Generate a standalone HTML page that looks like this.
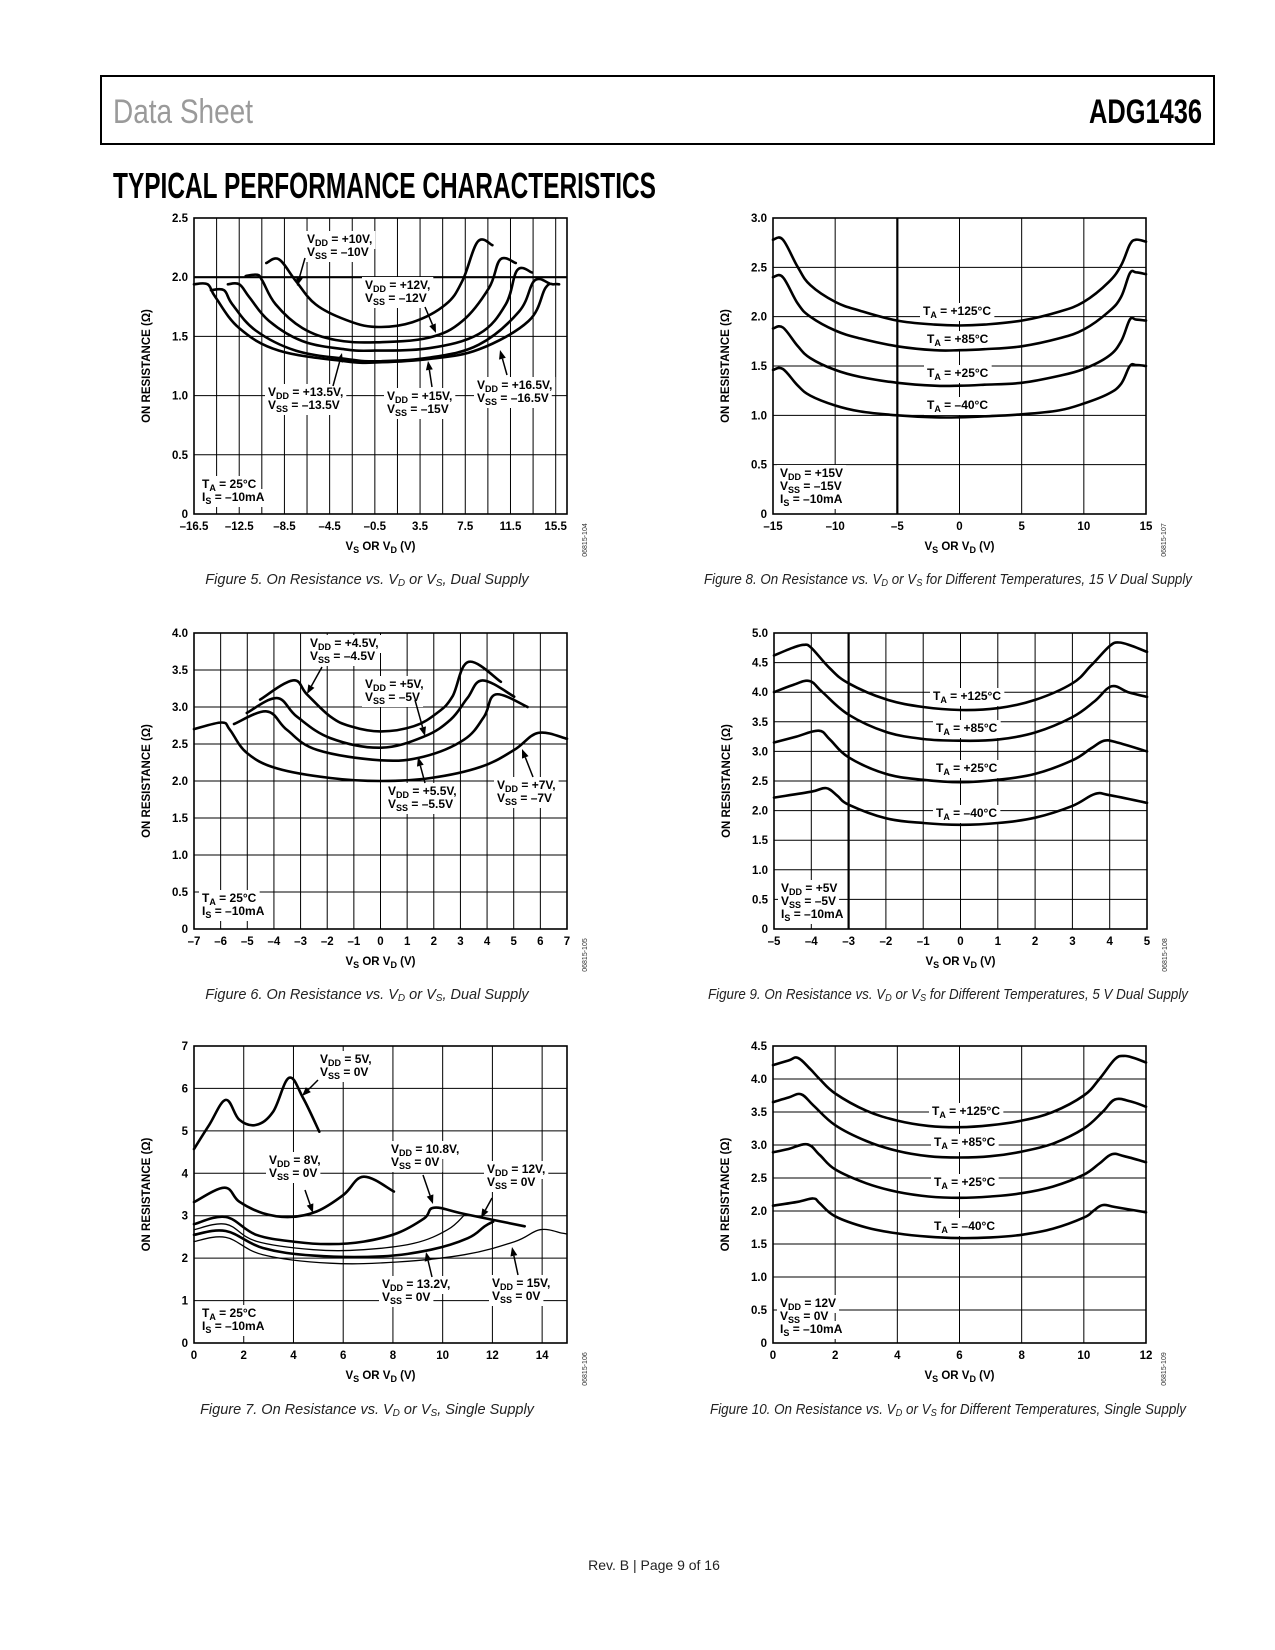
<!DOCTYPE html>
<html><head><meta charset="utf-8"><title>ADG1436 Typical Performance Characteristics</title>
<style>
html,body{margin:0;padding:0;background:#fff;}
svg{display:block;font-family:"Liberation Sans",Arial,sans-serif;}
.tk{font-size:11.5px;font-weight:bold;fill:#000;}
.lb{font-size:12px;font-weight:bold;fill:#000;}
.cap{font-size:14.5px;font-style:italic;fill:#222;}
</style></head>
<body>
<svg id="page" width="1275" height="1650" viewBox="0 0 1275 1650" xmlns="http://www.w3.org/2000/svg">
<rect x="101" y="76" width="1113" height="68" fill="none" stroke="#000" stroke-width="2"/>
<text x="113" y="123" font-size="34" fill="#9a9a9a" textLength="140" lengthAdjust="spacingAndGlyphs">Data Sheet</text>
<text x="1089" y="123" font-size="34" font-weight="bold" fill="#000" textLength="113" lengthAdjust="spacingAndGlyphs">ADG1436</text>
<text x="113" y="198" font-size="36" font-weight="bold" fill="#000" textLength="543" lengthAdjust="spacingAndGlyphs">TYPICAL PERFORMANCE CHARACTERISTICS</text>
<text class="cap" x="367" y="584" text-anchor="middle">Figure 5. On Resistance vs. V<tspan font-size="10" dy="2">D</tspan><tspan dy="-2"> or V</tspan><tspan font-size="10" dy="2">S</tspan><tspan dy="-2">, Dual Supply</tspan></text>
<text class="cap" x="948" y="584" text-anchor="middle" textLength="488" lengthAdjust="spacingAndGlyphs">Figure 8. On Resistance vs. V<tspan font-size="10" dy="2">D</tspan><tspan dy="-2"> or V</tspan><tspan font-size="10" dy="2">S</tspan><tspan dy="-2"> for Different Temperatures, 15 V Dual Supply</tspan></text>
<text class="cap" x="367" y="999" text-anchor="middle">Figure 6. On Resistance vs. V<tspan font-size="10" dy="2">D</tspan><tspan dy="-2"> or V</tspan><tspan font-size="10" dy="2">S</tspan><tspan dy="-2">, Dual Supply</tspan></text>
<text class="cap" x="948" y="999" text-anchor="middle" textLength="480" lengthAdjust="spacingAndGlyphs">Figure 9. On Resistance vs. V<tspan font-size="10" dy="2">D</tspan><tspan dy="-2"> or V</tspan><tspan font-size="10" dy="2">S</tspan><tspan dy="-2"> for Different Temperatures, 5 V Dual Supply</tspan></text>
<text class="cap" x="367" y="1414" text-anchor="middle">Figure 7. On Resistance vs. V<tspan font-size="10" dy="2">D</tspan><tspan dy="-2"> or V</tspan><tspan font-size="10" dy="2">S</tspan><tspan dy="-2">, Single Supply</tspan></text>
<text class="cap" x="948" y="1414" text-anchor="middle" textLength="476" lengthAdjust="spacingAndGlyphs">Figure 10. On Resistance vs. V<tspan font-size="10" dy="2">D</tspan><tspan dy="-2"> or V</tspan><tspan font-size="10" dy="2">S</tspan><tspan dy="-2"> for Different Temperatures, Single Supply</tspan></text>
<text x="654" y="1570" font-size="14" fill="#222" text-anchor="middle">Rev. B | Page 9 of 16</text>
</svg>
<script>
// ---------- Figure 5 data ----------
const f5_xticks = [-16.5,-12.5,-8.5,-4.5,-0.5,3.5,7.5,11.5,15.5];
const f5_yticks = [0,0.5,1.0,1.5,2.0,2.5];
const f5_v10_x = [-10.1,-8.98,-7.5,-5.73,-3.08,-0.42,2.82,5.77,7.25,8.6,9.9];
const f5_v10_y = [2.12,2.15,1.97,1.77,1.64,1.58,1.62,1.77,1.97,2.30,2.27];
const f5_v12_x = [-11.93,-10.9,-10.45,-9.27,-6.9,-3.96,-0.42,4.3,7.25,9.6,10.6,11.97];
const f5_v12_y = [2.01,2.02,1.97,1.77,1.57,1.47,1.45,1.49,1.63,1.91,2.15,2.12];
const f5_v135_x = [-13.5,-12.5,-11.6,-9.86,-6.9,-3.08,-0.42,4.3,8.7,11.08,12.1,13.4];
const f5_v135_y = [1.94,1.94,1.83,1.63,1.46,1.39,1.38,1.40,1.52,1.77,2.06,2.04];
const f5_v15_x = [-15.0,-13.85,-13.1,-11.04,-7.5,-3.08,-0.42,4.3,8.7,12.26,13.6,14.9];
const f5_v15_y = [1.89,1.89,1.77,1.55,1.38,1.31,1.29,1.32,1.43,1.71,1.97,1.95];
const f5_v165_x = [-16.5,-15.3,-14.6,-12.5,-8.98,-3.08,-0.42,4.3,8.7,13.1,14.6,15.35,15.8];
const f5_v165_y = [1.94,1.94,1.83,1.57,1.38,1.29,1.28,1.31,1.39,1.63,1.91,1.94,1.94];
// ---------- Figure 6 data ----------
const f6_xticks = [-7,-6,-5,-4,-3,-2,-1,0,1,2,3,4,5,6,7];
const f6_yticks = [0,0.5,1.0,1.5,2.0,2.5,3.0,3.5,4.0];
const f6_v45_x = [-4.52,-3.29,-2.76,-1.88,-1.13,0,1.25,2.13,2.7,3.3,4.52];
const f6_v45_y = [3.10,3.36,3.17,2.87,2.74,2.67,2.74,2.92,3.14,3.61,3.34];
const f6_v5_x = [-5.02,-3.89,-3.14,-1.88,0,1.63,2.63,3.26,3.83,5.02];
const f6_v5_y = [2.92,3.12,2.87,2.58,2.45,2.60,2.83,3.12,3.36,3.14];
const f6_v55_x = [-5.5,-4.27,-3.51,-2.38,0,1.63,3.14,3.89,4.33,5.52];
const f6_v55_y = [2.77,2.94,2.69,2.42,2.28,2.33,2.56,2.87,3.17,3.00];
const f6_v7_x = [-7,-5.96,-5.65,-5.02,-3.89,-1.88,0,1.88,3.76,5.02,5.92,7];
const f6_v7_y = [2.70,2.79,2.69,2.38,2.17,2.04,2.00,2.04,2.19,2.42,2.65,2.57];
// ---------- Figure 7 data ----------
const f7_xticks = [0,2,4,6,8,10,12,14];
const f7_yticks = [0,1,2,3,4,5,6,7];
const f7_v5_x = [0,0.61,1.28,1.82,2.5,3.18,3.82,4.39,5.04];
const f7_v5_y = [4.57,5.14,5.73,5.26,5.14,5.45,6.25,5.77,4.98];
const f7_v8_x = [0,1.22,1.82,2.77,3.85,4.93,6.01,6.82,8.04];
const f7_v8_y = [3.32,3.66,3.33,3.06,2.97,3.10,3.49,3.92,3.57];
const f7_v108_x = [0,1.28,2.5,4.12,5.47,6.82,8.18,9.26,9.66,10.88,13.3];
const f7_v108_y = [2.80,2.97,2.55,2.38,2.33,2.39,2.59,2.94,3.19,3.04,2.75];
const f7_v12_x = [0,1.28,2.5,4.8,6.82,8.85,10.2,10.88];
const f7_v12_y = [2.67,2.80,2.40,2.20,2.20,2.35,2.67,3.02];
const f7_v132_x = [0,1.28,2.77,4.8,7.5,9.53,11.01,11.69,12.03];
const f7_v132_y = [2.55,2.64,2.24,2.06,2.04,2.20,2.47,2.75,2.86];
const f7_v15_x = [0,1.28,2.77,5.47,8.18,10.88,12.9,13.92,14.8,15];
const f7_v15_y = [2.39,2.49,2.08,1.88,1.91,2.08,2.39,2.67,2.59,2.57];
// ---------- Figure 8 data ----------
const f8_xticks = [-15,-10,-5,0,5,10,15];
const f8_yticks = [0,0.5,1.0,1.5,2.0,2.5,3.0];
const f8_x = [-15,-14.2,-13,-12,-10,-8,-5,-2,0,2,5,8,10,12,13,13.7,14.2,15];
const f8_t125 = [2.78,2.78,2.50,2.32,2.15,2.06,1.96,1.92,1.91,1.92,1.96,2.05,2.15,2.35,2.52,2.73,2.78,2.76];
const f8_t85 = [2.40,2.40,2.13,2.00,1.86,1.78,1.70,1.66,1.66,1.67,1.70,1.78,1.87,2.05,2.20,2.44,2.45,2.43];
const f8_t25 = [1.88,1.89,1.70,1.58,1.46,1.39,1.33,1.30,1.30,1.31,1.33,1.40,1.47,1.60,1.75,1.97,1.97,1.96];
const f8_tm40 = [1.46,1.47,1.30,1.20,1.10,1.04,1.00,0.98,0.98,0.99,1.01,1.05,1.12,1.22,1.32,1.50,1.51,1.50];
// ---------- Figure 9 data ----------
const f9_xticks = [-5,-4,-3,-2,-1,0,1,2,3,4,5];
const f9_yticks = [0,0.5,1.0,1.5,2.0,2.5,3.0,3.5,4.0,4.5,5.0];
const f9_t125_x = [-5,-4.5,-4.2,-4,-3.5,-3,-2,-1,0,1,2,3,3.5,4,4.25,4.6,5];
const f9_t125_y = [4.62,4.75,4.80,4.75,4.40,4.15,3.88,3.75,3.70,3.73,3.87,4.15,4.45,4.78,4.84,4.78,4.68];
const f9_t85_x = [-5,-4.5,-4.05,-3.7,-3,-2,-1,0,1,2,3,3.6,4.05,4.5,5];
const f9_t85_y = [4.00,4.12,4.19,4.00,3.62,3.33,3.21,3.18,3.20,3.32,3.58,3.85,4.10,4.00,3.92];
const f9_t25_x = [-5,-4.4,-3.8,-3.5,-3,-2,-1,0,1,2,3,3.5,3.85,4.2,5];
const f9_t25_y = [3.15,3.25,3.35,3.20,2.90,2.62,2.52,2.48,2.52,2.62,2.85,3.05,3.18,3.15,3.00];
const f9_tm40_x = [-5,-4,-3.6,-3.3,-3,-2,-1,0,1,2,3,3.6,4,5];
const f9_tm40_y = [2.22,2.32,2.38,2.25,2.10,1.87,1.79,1.76,1.79,1.88,2.08,2.28,2.26,2.13];
// ---------- Figure 10 data ----------
const f10_xticks = [0,2,4,6,8,10,12];
const f10_yticks = [0,0.5,1.0,1.5,2.0,2.5,3.0,3.5,4.0,4.5];
const f10_t125_x = [0,0.5,0.8,1.2,1.5,2,3,4,5,6,7,8,9,10,10.5,11,11.3,11.6,12];
const f10_t125_y = [4.21,4.28,4.32,4.15,4.00,3.78,3.52,3.37,3.29,3.27,3.30,3.37,3.50,3.75,4.00,4.30,4.35,4.32,4.25];
const f10_t85_x = [0,0.5,0.9,1.3,2,3,4,5,6,7,8,9,10,10.6,11,11.5,12];
const f10_t85_y = [3.65,3.72,3.77,3.60,3.30,3.06,2.91,2.83,2.81,2.83,2.90,3.02,3.25,3.50,3.69,3.66,3.58];
const f10_t25_x = [0,0.5,1.1,1.5,2,3,4,5,6,7,8,9,10,10.5,10.9,11.3,12];
const f10_t25_y = [2.89,2.94,3.01,2.85,2.63,2.42,2.29,2.22,2.20,2.22,2.27,2.37,2.55,2.72,2.86,2.83,2.74];
const f10_tm40_x = [0,0.8,1.3,1.5,2,3,4,5,6,7,8,9,10,10.3,10.6,11,12];
const f10_tm40_y = [2.08,2.14,2.19,2.12,1.92,1.75,1.66,1.61,1.59,1.60,1.64,1.73,1.90,2.00,2.09,2.06,1.98];

const NS = "http://www.w3.org/2000/svg";
const svg = document.getElementById('page');
function mk(tag, attrs, parent){
  const e = document.createElementNS(NS, tag);
  for (const k in attrs) e.setAttribute(k, attrs[k]);
  parent.appendChild(e);
  return e;
}
function fmt(v){
  let s = Number.isInteger(v) ? String(v) : String(v);
  return s.replace('-', '\u2013');
}
function smoothPath(px){
  let d = 'M' + px[0][0].toFixed(1) + ',' + px[0][1].toFixed(1);
  for (let i = 0; i < px.length - 1; i++){
    const p0 = px[Math.max(0,i-1)], p1 = px[i], p2 = px[i+1], p3 = px[Math.min(px.length-1,i+2)];
    const t = 0.18;
    const c1 = [p1[0] + (p2[0]-p0[0])*t, p1[1] + (p2[1]-p0[1])*t];
    const c2 = [p2[0] - (p3[0]-p1[0])*t, p2[1] - (p3[1]-p1[1])*t];
    d += ' C' + c1[0].toFixed(1)+','+c1[1].toFixed(1)+' '+c2[0].toFixed(1)+','+c2[1].toFixed(1)+' '+p2[0].toFixed(1)+','+p2[1].toFixed(1);
  }
  return d;
}

function chart(c){
  const g = mk('g', {}, svg);
  
  
  const sx = v => c.x0 + (v - c.xmin) / (c.xmax - c.xmin) * (c.x1 - c.x0);
  const sy = v => c.y1 - (v - c.ymin) / (c.ymax - c.ymin) * (c.y1 - c.y0);
  const gGrid = mk('g', {}, g), gBg = mk('g', {}, g), gCurve = mk('g', {}, g), gTxt = mk('g', {}, g);
  
  
  for (let v = c.xmin + c.xstep; v < c.xmax - 1e-6; v += c.xstep){
    const ln = mk('line', {x1:sx(v), x2:sx(v), y1:c.y0, y2:c.y1, stroke:'#000', 'stroke-width': (c.thickX===undefined||Math.abs(v-c.thickX)>1e-6)?1:2.2}, gGrid);
    
    
  }
  for (let v = c.ymin + c.ystep; v < c.ymax - 1e-6; v += c.ystep){
    const ln = mk('line', {x1:c.x0, x2:c.x1, y1:sy(v), y2:sy(v), stroke:'#000', 'stroke-width': (c.thickY===undefined||Math.abs(v-c.thickY)>1e-6)?1:2.2}, gGrid);
    
    
  }
  const fr = mk('rect', {x:c.x0, y:c.y0, width:c.x1-c.x0, height:c.y1-c.y0, fill:'none', stroke:'#000', 'stroke-width':1.6}, g);
  
  
  c.xticks.forEach(v => {
    const t = mk('text', {x:sx(v), y:c.y1+16, 'text-anchor':'middle', class:'tk'}, g);
    t.textContent = fmt(v);
    
    
  });
  c.yticks.forEach(v => {
    const t = mk('text', {x:c.x0-6, y:sy(v)+4, 'text-anchor':'end', class:'tk'}, g);
    t.textContent = c.ydec ? (v===0?'0':v.toFixed(1)) : String(v);
    
    
  });
  const xt = mk('text', {x:(c.x0+c.x1)/2, y:c.y1+36, 'text-anchor':'middle', class:'tk'}, g);
  xt.innerHTML = 'V<tspan font-size="9" dy="3">S</tspan><tspan dy="-3"> OR V</tspan><tspan font-size="9" dy="3">D</tspan><tspan dy="-3"> (V)</tspan>';
  
  
  const ym = (c.y0+c.y1)/2;
  const yt = mk('text', {x:c.x0-44, y:ym, 'text-anchor':'middle', class:'tk', transform:'rotate(-90 '+(c.x0-44)+' '+ym+')'}, g);
  yt.textContent = 'ON RESISTANCE (\u03A9)';
  
  
  const idx = c.x1 + 20, idy = c.y1 + 26;
  const idt = mk('text', {x:idx, y:idy, 'text-anchor':'middle', 'font-size':7, fill:'#333', transform:'rotate(-90 '+idx+' '+idy+')'}, g);
  idt.textContent = c.id;
  
  
  c.series.forEach(s => {
    const pts = s.x.map((xv,i) => [sx(xv), sy(s.y[i])]);
    const p = mk('path', {d:smoothPath(pts), fill:'none', stroke:'#000', 'stroke-width':s.w||2.6, 'stroke-linejoin':'round', 'stroke-linecap':'round'}, gCurve);
    
    
  });
  c.labels.forEach(L => {
    const t = mk('text', {x:L.x, y:L.y, class:'lb'}, gTxt);
    t.innerHTML = L.html;
    
    
    const b = t.getBBox();
    const r = mk('rect', {x:b.x-3, y:b.y-1, width:b.width+6, height:b.height+2, fill:'#fff'}, gBg);
    
    
  });
  (c.arrows||[]).forEach(a => {
    const [x1,y1,x2,y2] = a;
    const ag = mk('g', {}, gTxt);
    
    
    const ang = Math.atan2(y2-y1, x2-x1), L = 9, W = 3.5;
    const bx = x2 - L*Math.cos(ang), by = y2 - L*Math.sin(ang);
    mk('line', {x1:x1, y1:y1, x2:bx, y2:by, stroke:'#000', 'stroke-width':1.5}, ag);
    mk('polygon', {points: x2+','+y2+' '+(bx - W*Math.sin(ang))+','+(by + W*Math.cos(ang))+' '+(bx + W*Math.sin(ang))+','+(by - W*Math.cos(ang)), fill:'#000'}, ag);
  });
}
function vv(a,b,c){ return a+'<tspan font-size="9" dy="3">'+b+'</tspan><tspan dy="-3">'+c+'</tspan>'; }
function two(x,y,l1,l2,name){ return [{x:x,y:y,html:l1,name:name+'-line1'},{x:x,y:y+13,html:l2,name:name+'-line2'}]; }

// Figure 5
chart({name:'chart-fig5', id:'06815-104', x0:194, x1:567, y0:218, y1:514, xmin:-16.5, xmax:16.5, ymin:0, ymax:2.5, xstep:2, ystep:0.5, thickY:2.0, ydec:true,
  xticks:f5_xticks, yticks:f5_yticks,
  series:[{x:f5_v10_x,y:f5_v10_y,name:'curve-vdd-10v'},{x:f5_v12_x,y:f5_v12_y,name:'curve-vdd-12v'},{x:f5_v135_x,y:f5_v135_y,name:'curve-vdd-13-5v'},{x:f5_v15_x,y:f5_v15_y,name:'curve-vdd-15v'},{x:f5_v165_x,y:f5_v165_y,name:'curve-vdd-16-5v'}],
  labels:[].concat(
    two(307,243,vv('V','DD',' = +10V,'),vv('V','SS',' = \u201310V'),'label-vdd-10v'),
    two(365,289,vv('V','DD',' = +12V,'),vv('V','SS',' = \u201312V'),'label-vdd-12v'),
    two(268,396,vv('V','DD',' = +13.5V,'),vv('V','SS',' = \u201313.5V'),'label-vdd-13-5v'),
    two(387,400,vv('V','DD',' = +15V,'),vv('V','SS',' = \u201315V'),'label-vdd-15v'),
    two(477,389,vv('V','DD',' = +16.5V,'),vv('V','SS',' = \u201316.5V'),'label-vdd-16-5v'),
    two(202,488,vv('T','A',' = 25\u00B0C'),vv('I','S',' = \u201310mA'),'label-conditions')),
  arrows:[[305,258,297,286],[425,307,436,333],[333,386,342,353],[432,387,428,361],[507,375,500,350]]
});
// Figure 8
chart({name:'chart-fig8', id:'06815-107', x0:773, x1:1146, y0:218, y1:514, xmin:-15, xmax:15, ymin:0, ymax:3, xstep:5, ystep:0.5, thickX:-5, ydec:true,
  xticks:f8_xticks, yticks:f8_yticks,
  series:[{x:f8_x,y:f8_t125,name:'curve-ta-125c'},{x:f8_x,y:f8_t85,name:'curve-ta-85c'},{x:f8_x,y:f8_t25,name:'curve-ta-25c'},{x:f8_x,y:f8_tm40,name:'curve-ta-minus-40c'}],
  labels:[
    {x:923,y:315,html:vv('T','A',' = +125\u00B0C'),name:'label-ta-125c'},
    {x:927,y:343,html:vv('T','A',' = +85\u00B0C'),name:'label-ta-85c'},
    {x:927,y:377,html:vv('T','A',' = +25\u00B0C'),name:'label-ta-25c'},
    {x:927,y:409,html:vv('T','A',' = \u201340\u00B0C'),name:'label-ta-minus-40c'},
    {x:780,y:477,html:vv('V','DD',' = +15V'),name:'label-vdd'},
    {x:780,y:490,html:vv('V','SS',' = \u201315V'),name:'label-vss'},
    {x:780,y:503,html:vv('I','S',' = \u201310mA'),name:'label-is'}]
});
// Figure 6
chart({name:'chart-fig6', id:'06815-105', x0:194, x1:567, y0:633, y1:929, xmin:-7, xmax:7, ymin:0, ymax:4, xstep:1, ystep:0.5, ydec:true,
  xticks:f6_xticks, yticks:f6_yticks,
  series:[{x:f6_v45_x,y:f6_v45_y,name:'curve-vdd-4-5v'},{x:f6_v5_x,y:f6_v5_y,name:'curve-vdd-5v'},{x:f6_v55_x,y:f6_v55_y,name:'curve-vdd-5-5v'},{x:f6_v7_x,y:f6_v7_y,name:'curve-vdd-7v'}],
  labels:[].concat(
    two(310,647,vv('V','DD',' = +4.5V,'),vv('V','SS',' = \u20134.5V'),'label-vdd-4-5v'),
    two(365,688,vv('V','DD',' = +5V,'),vv('V','SS',' = \u20135V'),'label-vdd-5v'),
    two(388,795,vv('V','DD',' = +5.5V,'),vv('V','SS',' = \u20135.5V'),'label-vdd-5-5v'),
    two(497,789,vv('V','DD',' = +7V,'),vv('V','SS',' = \u20137V'),'label-vdd-7v'),
    two(202,902,vv('T','A',' = 25\u00B0C'),vv('I','S',' = \u201310mA'),'label-conditions')),
  arrows:[[322,667,307,694],[415,700,425,736],[425,783,418,757],[533,777,522,749]]
});
// Figure 9
chart({name:'chart-fig9', id:'06815-108', x0:774, x1:1147, y0:633, y1:929, xmin:-5, xmax:5, ymin:0, ymax:5, xstep:1, ystep:0.5, thickX:-3, ydec:true,
  xticks:f9_xticks, yticks:f9_yticks,
  series:[{x:f9_t125_x,y:f9_t125_y,name:'curve-ta-125c'},{x:f9_t85_x,y:f9_t85_y,name:'curve-ta-85c'},{x:f9_t25_x,y:f9_t25_y,name:'curve-ta-25c'},{x:f9_tm40_x,y:f9_tm40_y,name:'curve-ta-minus-40c'}],
  labels:[
    {x:933,y:700,html:vv('T','A',' = +125\u00B0C'),name:'label-ta-125c'},
    {x:936,y:732,html:vv('T','A',' = +85\u00B0C'),name:'label-ta-85c'},
    {x:936,y:772,html:vv('T','A',' = +25\u00B0C'),name:'label-ta-25c'},
    {x:936,y:817,html:vv('T','A',' = \u201340\u00B0C'),name:'label-ta-minus-40c'},
    {x:781,y:892,html:vv('V','DD',' = +5V'),name:'label-vdd'},
    {x:781,y:905,html:vv('V','SS',' = \u20135V'),name:'label-vss'},
    {x:781,y:918,html:vv('I','S',' = \u201310mA'),name:'label-is'}]
});
// Figure 7
chart({name:'chart-fig7', id:'06815-106', x0:194, x1:567, y0:1046, y1:1343, xmin:0, xmax:15, ymin:0, ymax:7, xstep:2, ystep:1, ydec:false,
  xticks:f7_xticks, yticks:f7_yticks,
  series:[{x:f7_v5_x,y:f7_v5_y,name:'curve-vdd-5v'},{x:f7_v8_x,y:f7_v8_y,name:'curve-vdd-8v'},{x:f7_v108_x,y:f7_v108_y,name:'curve-vdd-10-8v'},{x:f7_v12_x,y:f7_v12_y,name:'curve-vdd-12v',w:1.3},{x:f7_v132_x,y:f7_v132_y,name:'curve-vdd-13-2v'},{x:f7_v15_x,y:f7_v15_y,name:'curve-vdd-15v',w:1.3}],
  labels:[].concat(
    two(320,1063,vv('V','DD',' = 5V,'),vv('V','SS',' = 0V'),'label-vdd-5v'),
    two(269,1164,vv('V','DD',' = 8V,'),vv('V','SS',' = 0V'),'label-vdd-8v'),
    two(391,1153,vv('V','DD',' = 10.8V,'),vv('V','SS',' = 0V'),'label-vdd-10-8v'),
    two(487,1173,vv('V','DD',' = 12V,'),vv('V','SS',' = 0V'),'label-vdd-12v'),
    two(382,1288,vv('V','DD',' = 13.2V,'),vv('V','SS',' = 0V'),'label-vdd-13-2v'),
    two(492,1287,vv('V','DD',' = 15V,'),vv('V','SS',' = 0V'),'label-vdd-15v'),
    two(202,1317,vv('T','A',' = 25\u00B0C'),vv('I','S',' = \u201310mA'),'label-conditions')),
  arrows:[[318,1080,302,1096],[305,1190,313,1213],[423,1175,433,1204],[492,1198,481,1218],[432,1277,426,1252],[518,1275,512,1247]]
});
// Figure 10
chart({name:'chart-fig10', id:'06815-109', x0:773, x1:1146, y0:1046, y1:1343, xmin:0, xmax:12, ymin:0, ymax:4.5, xstep:2, ystep:0.5, ydec:true,
  xticks:f10_xticks, yticks:f10_yticks,
  series:[{x:f10_t125_x,y:f10_t125_y,name:'curve-ta-125c'},{x:f10_t85_x,y:f10_t85_y,name:'curve-ta-85c'},{x:f10_t25_x,y:f10_t25_y,name:'curve-ta-25c'},{x:f10_tm40_x,y:f10_tm40_y,name:'curve-ta-minus-40c'}],
  labels:[
    {x:932,y:1115,html:vv('T','A',' = +125\u00B0C'),name:'label-ta-125c'},
    {x:934,y:1146,html:vv('T','A',' = +85\u00B0C'),name:'label-ta-85c'},
    {x:934,y:1186,html:vv('T','A',' = +25\u00B0C'),name:'label-ta-25c'},
    {x:934,y:1230,html:vv('T','A',' = \u201340\u00B0C'),name:'label-ta-minus-40c'},
    {x:780,y:1307,html:vv('V','DD',' = 12V'),name:'label-vdd'},
    {x:780,y:1320,html:vv('V','SS',' = 0V'),name:'label-vss'},
    {x:780,y:1333,html:vv('I','S',' = \u201310mA'),name:'label-is'}]
});
</script>
</body></html>
